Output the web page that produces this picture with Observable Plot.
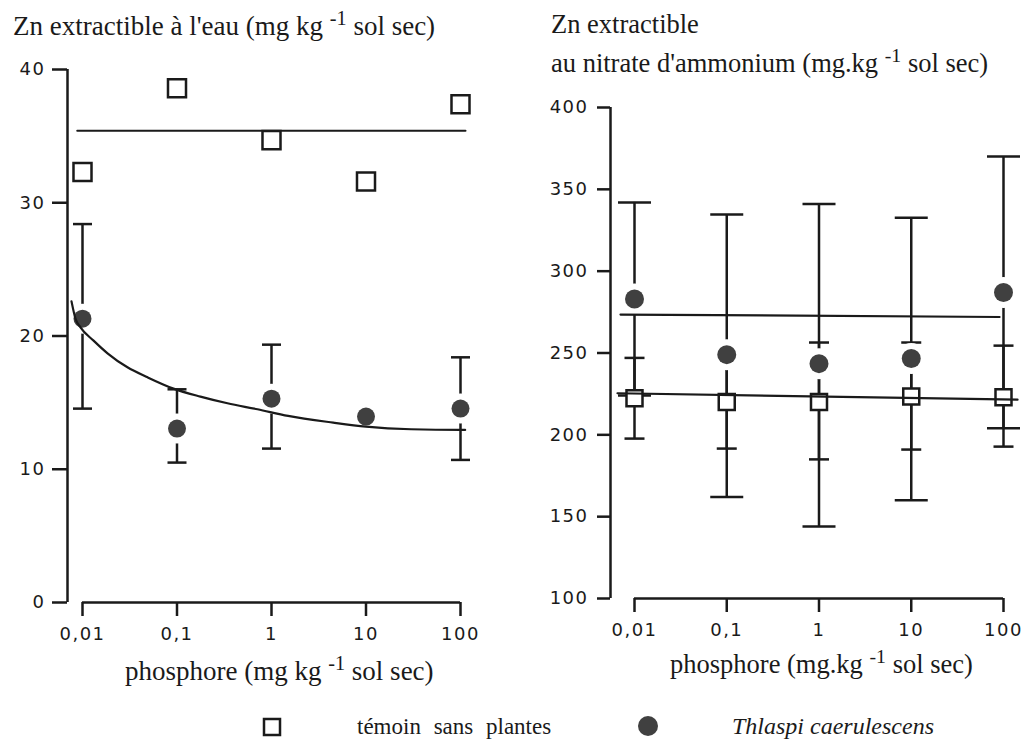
<!DOCTYPE html>
<html><head><meta charset="utf-8">
<script src="https://cdn.jsdelivr.net/npm/d3@7"></script>
<script src="https://cdn.jsdelivr.net/npm/@observablehq/plot@0.6"></script>
<style>
body{margin:0;background:#fff;}
#wrap{position:relative;width:1028px;height:739px;overflow:hidden;background:#fff;}
#wrap svg{position:absolute;top:0;}
</style></head><body><div id="wrap"></div>
<script>
// ---------- shared ----------
const phosphore = [0.01, 0.1, 1, 10, 100];
const phosphoreLabels = ["0,01", "0,1", "1", "10", "100"];

// ---------- left panel: Zn extractible à l'eau ----------
const eauYTicks = [0, 10, 20, 30, 40];
const eauTemoin = [32.3, 38.6, 34.7, 31.6, 37.4];
const eauTemoinLigneX = [0.0088, 113];
const eauTemoinLigneY = [35.4, 35.4];
const eauThlaspi = [21.3, 13.05, 15.3, 13.95, 14.55];
const eauThlaspiHaut = [28.4, 16.0, 19.35, null, 18.4];
const eauThlaspiBas = [14.55, 10.5, 11.55, null, 10.7];
const eauCourbeX = [0.00765, 0.00843, 0.00952, 0.0131, 0.0184, 0.0299, 0.0488, 0.0918, 0.177, 0.342, 0.711, 1.5, 4.5, 10, 30, 100, 112];
const eauCourbeY = [22.6, 21.3, 20.65, 19.65, 18.7, 17.65, 16.9, 16.05, 15.45, 14.95, 14.5, 14.0, 13.5, 13.2, 13.0, 12.95, 12.95];

// ---------- right panel: Zn extractible au nitrate d'ammonium ----------
const nitrateYTicks = [100, 150, 200, 250, 300, 350, 400];
const nitrateTemoin = [222.3, 220, 220, 223.4, 223];
const nitrateTemoinHaut = [247, 248, 256.4, 256.4, 254.5];
const nitrateTemoinBas = [197.7, 191.6, 185, 191, 192.8];
const nitrateThlaspi = [283, 249, 243.5, 246.6, 287];
const nitrateThlaspiHaut = [342, 334.6, 341, 332.7, 370];
const nitrateThlaspiBas = [224, 162, 144, 160, 204];
const nitrateTemoinLigneX = [0.00654, 142];
const nitrateTemoinLigneY = [225.4, 221.5];
const nitrateThlaspiLigneX = [0.00705, 90.6];
const nitrateThlaspiLigneY = [273.5, 272];

// ---------- helpers ----------
const rows = (ys, hi, lo) => phosphore.map((x, i) => ({x, y: ys[i], hi: hi ? hi[i] : null, lo: lo ? lo[i] : null}));
const pts = (xs, ys) => xs.map((x, i) => ({x, y: ys[i]}));
const capSymbol = {draw(ctx, size) { const r = Math.sqrt(size / Math.PI); ctx.moveTo(-r, 0); ctx.lineTo(r, 0); }};
const fmtX = d => phosphoreLabels[phosphore.indexOf(d)];
const INK = "#1a1a1a", DOT = "#404040";
const tickStyle = {fontFamily: "'DejaVu Sans', sans-serif", fontSize: "18px", letterSpacing: "1.5px", color: INK, overflow: "visible", background: "transparent"};

function errorMarks(data, halfCap) {
  const d = data.filter(r => r.hi != null);
  return [
    Plot.ruleX(d, {x: "x", y1: "lo", y2: "hi", stroke: INK, strokeWidth: 2.5}),
    Plot.dot(d, {x: "x", y: "hi", symbol: capSymbol, r: halfCap, stroke: INK, strokeWidth: 2.5, fill: "none"}),
    Plot.dot(d, {x: "x", y: "lo", symbol: capSymbol, r: halfCap, stroke: INK, strokeWidth: 2.5, fill: "none"})
  ];
}

// ---------- left plot ----------
{
  const decade = 94.5, offset = 15;
  const xMin = Math.pow(10, -2 - offset / decade);
  const temoin = rows(eauTemoin);
  const thlaspi = rows(eauThlaspi, eauThlaspiHaut, eauThlaspiBas);
  const chart = Plot.plot({
    width: 510, height: 700,
    marginLeft: 67, marginRight: 50, marginTop: 69, marginBottom: 98,
    x: {type: "log", domain: [xMin, 100]},
    y: {domain: [0, 40]},
    style: tickStyle,
    marks: [
      ...errorMarks(thlaspi, 9.5),
      Plot.dot(thlaspi, {x: "x", y: "y", r: 15, fill: "white"}),
      Plot.dot(thlaspi, {x: "x", y: "y", r: 9, fill: DOT}),
      Plot.dot(temoin, {x: "x", y: "y", symbol: "square", r: 10.16, fill: "white", stroke: INK, strokeWidth: 2.5}),
      Plot.line(pts(eauTemoinLigneX, eauTemoinLigneY), {x: "x", y: "y", stroke: INK, strokeWidth: 2}),
      Plot.line(pts(eauCourbeX, eauCourbeY), {x: "x", y: "y", curve: "monotone-x", stroke: INK, strokeWidth: 2.2}),
      Plot.ruleX([xMin], {y1: 0, y2: 40, stroke: INK, strokeWidth: 2.5}),
      Plot.ruleY([0], {x1: phosphore[0], x2: phosphore[4], stroke: INK, strokeWidth: 2.5}),
      Plot.axisY({ticks: eauYTicks, tickSize: 15, tickPadding: 7, strokeWidth: 2.5, stroke: INK, label: null}),
      Plot.axisX({ticks: phosphore, tickFormat: fmtX, tickSize: 14, tickPadding: 11, strokeWidth: 2.5, stroke: INK, label: null})
    ]
  });
  chart.style.left = "0px";
  document.getElementById("wrap").appendChild(chart);
}

// ---------- right plot ----------
{
  const decade = 92.25, offset = 24;
  const xMin = Math.pow(10, -2 - offset / decade);
  const temoin = rows(nitrateTemoin, nitrateTemoinHaut, nitrateTemoinBas);
  const thlaspi = rows(nitrateThlaspi, nitrateThlaspiHaut, nitrateThlaspiBas);
  const chart = Plot.plot({
    width: 518, height: 700,
    marginLeft: 100, marginRight: 25, marginTop: 107, marginBottom: 102,
    x: {type: "log", domain: [xMin, 100]},
    y: {domain: [100, 400]},
    style: tickStyle,
    marks: [
      ...errorMarks(temoin, 10),
      ...errorMarks(thlaspi, 16.5),
      Plot.dot(thlaspi, {x: "x", y: "y", r: 15.5, fill: "white"}),
      Plot.dot(thlaspi, {x: "x", y: "y", r: 9.5, fill: DOT}),
      Plot.dot(temoin, {x: "x", y: "y", symbol: "square", r: 9.03, fill: "white", stroke: INK, strokeWidth: 2.5}),
      Plot.line(pts(nitrateTemoinLigneX, nitrateTemoinLigneY), {x: "x", y: "y", stroke: INK, strokeWidth: 2.2}),
      Plot.line(pts(nitrateThlaspiLigneX, nitrateThlaspiLigneY), {x: "x", y: "y", stroke: INK, strokeWidth: 2.2}),
      Plot.ruleX([xMin], {y1: 100, y2: 400, stroke: INK, strokeWidth: 2.5}),
      Plot.ruleY([100], {x1: phosphore[0], x2: phosphore[4], stroke: INK, strokeWidth: 2.5}),
      Plot.axisY({ticks: nitrateYTicks, tickSize: 13, tickPadding: 9, strokeWidth: 2.5, stroke: INK, label: null}),
      Plot.axisX({ticks: phosphore, tickFormat: fmtX, tickSize: 14, tickPadding: 11, strokeWidth: 2.5, stroke: INK, label: null})
    ]
  });
  chart.style.left = "510px";
  document.getElementById("wrap").appendChild(chart);
}

// ---------- titles, axis labels, legend ----------
{
  const svg = d3.select("#wrap").append("svg")
    .attr("width", 1028).attr("height", 739)
    .style("left", "0px").style("pointer-events", "none")
    .style("font-family", "'Liberation Serif', 'Times New Roman', serif")
    .style("fill", INK);
  function label(x, y, before, sup, after, size) {
    const t = svg.append("text").attr("x", x).attr("y", y).style("font-size", size + "px");
    t.append("tspan").text(before);
    if (sup) {
      t.append("tspan").attr("dy", -size * 0.36).style("font-size", (size * 0.75) + "px").text(sup);
      t.append("tspan").attr("dy", size * 0.36).text(after);
    }
    return t;
  }
  label(13, 35, "Zn extractible à l'eau (mg kg ", "-1", " sol sec)", 27);
  label(551, 33, "Zn extractible", null, null, 26.5);
  label(551, 72, "au nitrate d'ammonium (mg.kg ", "-1", " sol sec)", 26.5);
  label(125, 680, "phosphore (mg kg ", "-1", " sol sec)", 27);
  label(670, 673, "phosphore (mg.kg ", "-1", " sol sec)", 26.5);
  // legend
  svg.append("rect").attr("x", 264).attr("y", 719).attr("width", 16).attr("height", 16)
    .attr("fill", "white").attr("stroke", INK).attr("stroke-width", 2.5);
  svg.append("text").attr("x", 357).attr("y", 734).style("font-size", "23px").style("word-spacing", "7px").text("témoin  sans plantes");
  svg.append("circle").attr("cx", 648).attr("cy", 726).attr("r", 10).attr("fill", DOT);
  svg.append("text").attr("x", 732).attr("y", 734).style("font-size", "24px").style("font-style", "italic").text("Thlaspi caerulescens");
}
</script>
</body></html>
